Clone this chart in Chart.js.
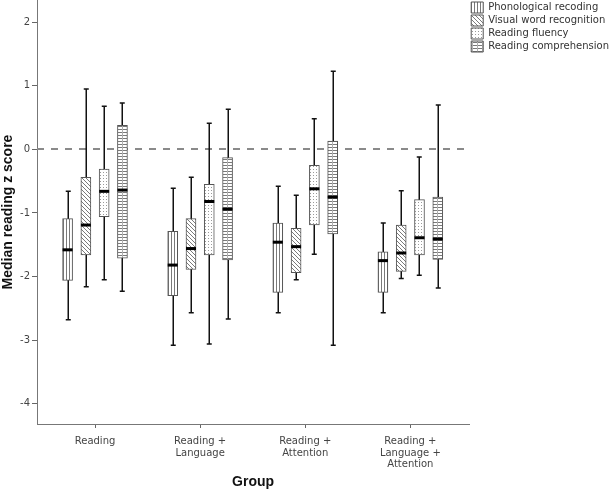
<!DOCTYPE html>
<html>
<head>
<meta charset="utf-8">
<script src="https://cdn.jsdelivr.net/npm/chart.js@4.4.1/dist/chart.umd.min.js"></script>
<style>
  html, body { margin: 0; padding: 0; background: #fff; }
  #wrap { width: 613px; height: 492px; }
</style>
</head>
<body>
<div id="wrap"><canvas id="myChart"></canvas></div>
<script>
// groups on the x axis (multi-line tick labels)
const group_labels = [
    ['Reading'],
    ['Reading +', 'Language'],
    ['Reading +', 'Attention'],
    ['Reading +', 'Language +', 'Attention']
];
const group_positions = [1, 2, 3, 4];

const measure_names = ['Phonological recoding', 'Visual word recognition', 'Reading fluency', 'Reading comprehension'];

// Phonological recoding
const phon_min = [-2.68, -3.08, -2.57, -2.57];
const phon_q1  = [-2.06, -2.30, -2.25, -2.25];
const phon_med = [-1.58, -1.82, -1.46, -1.75];
const phon_q3  = [-1.09, -1.29, -1.16, -1.61];
const phon_max = [-0.66, -0.61, -0.58, -1.16];

// Visual word recognition
const visual_min = [-2.16, -2.57, -2.05, -2.03];
const visual_q1  = [-1.66, -1.89, -1.94, -1.92];
const visual_med = [-1.19, -1.56, -1.53, -1.63];
const visual_q3  = [-0.44, -1.09, -1.24, -1.19];
const visual_max = [0.95, -0.44, -0.72, -0.65];

// Reading fluency
const fluency_min = [-2.05, -3.06, -1.65, -1.98];
const fluency_q1  = [-1.06, -1.66, -1.19, -1.66];
const fluency_med = [-0.66, -0.82, -0.62, -1.39];
const fluency_q3  = [-0.31, -0.55, -0.25, -0.79];
const fluency_max = [0.68, 0.41, 0.48, -0.12];

// Reading comprehension
const compr_min = [-2.23, -2.67, -3.08, -2.18];
const compr_q1  = [-1.71, -1.74, -1.33, -1.73];
const compr_med = [-0.64, -0.94, -0.75, -1.41];
const compr_q3  = [0.38, -0.13, 0.13, -0.75];
const compr_max = [0.73, 0.63, 1.23, 0.70];

const y_ticks = [-4, -3, -2, -1, 0, 1, 2];


// little hatch patterns for the boxes
function makePattern(w, h, draw) {
    const c = document.createElement('canvas');
    c.width = w;
    c.height = h;
    const g = c.getContext('2d');
    g.fillStyle = '#ffffff';
    g.fillRect(0, 0, w, h);
    g.fillStyle = '#7a7a7a';
    g.strokeStyle = '#7a7a7a';
    g.lineWidth = 1;
    draw(g);
    return g.createPattern(c, 'repeat');
}

const pat_vertical = makePattern(3, 3, function(g) {
    g.fillRect(0, 0, 1, 3);
});
const pat_diagonal = makePattern(4, 4, function(g) {
    g.fillRect(0, 0, 1, 1);
    g.fillRect(1, 1, 1, 1);
    g.fillRect(2, 2, 1, 1);
    g.fillRect(3, 3, 1, 1);
});
const pat_dots = makePattern(3, 3, function(g) {
    g.fillStyle = '#9a9a9a';
    g.fillRect(1, 1, 1, 1);
});
const pat_horizontal = makePattern(5, 3, function(g) {
    g.fillRect(0, 0, 5, 1);
    g.fillStyle = '#b0b0b0';
    g.fillRect(2, 0, 1, 3);
});

const box_offsets = [-0.261, -0.087, 0.087, 0.261];

function boxData(q1, q3, k) {
    return group_positions.map(function(g, i) {
        return { x: g + box_offsets[k], y: [q1[i], q3[i]] };
    });
}

const datasets = [
    { label: measure_names[0], data: boxData(phon_q1, phon_q3, 0), backgroundColor: pat_vertical,
      lo: phon_min, med: phon_med, hi: phon_max },
    { label: measure_names[1], data: boxData(visual_q1, visual_q3, 1), backgroundColor: pat_diagonal,
      lo: visual_min, med: visual_med, hi: visual_max },
    { label: measure_names[2], data: boxData(fluency_q1, fluency_q3, 2), backgroundColor: pat_dots,
      lo: fluency_min, med: fluency_med, hi: fluency_max },
    { label: measure_names[3], data: boxData(compr_q1, compr_q3, 3), backgroundColor: pat_horizontal,
      lo: compr_min, med: compr_med, hi: compr_max }
];
datasets.forEach(function(ds) {
    ds.borderColor = '#555555';
    ds.borderWidth = 1;
    ds.borderSkipped = false;
    ds.barThickness = 10;
    ds.grouped = false;
});

// whiskers, medians and the dashed reference line at 0
const whiskerPlugin = {
    id: 'whiskers',
    beforeDatasetsDraw(chart) {
        const ctx = chart.ctx;
        const area = chart.chartArea;
        const y = chart.scales.y;
        ctx.save();
        ctx.strokeStyle = '#8a8a8a';
        ctx.lineWidth = 2;
        ctx.setLineDash([7, 7]);
        const y0 = Math.round(y.getPixelForValue(0));
        ctx.beginPath();
        ctx.moveTo(area.left, y0);
        ctx.lineTo(area.right, y0);
        ctx.stroke();
        ctx.setLineDash([]);

        ctx.strokeStyle = '#111111';
        ctx.lineWidth = 1.5;
        chart.data.datasets.forEach(function(ds, d) {
            chart.getDatasetMeta(d).data.forEach(function(bar, i) {
                const x = Math.round(bar.x) + 0.25;
                const top = y.getPixelForValue(ds.hi[i]);
                const bot = y.getPixelForValue(ds.lo[i]);
                ctx.beginPath();
                ctx.moveTo(x, top);
                ctx.lineTo(x, bot);
                ctx.moveTo(x - 2.5, top);
                ctx.lineTo(x + 2.5, top);
                ctx.moveTo(x - 2.5, bot);
                ctx.lineTo(x + 2.5, bot);
                ctx.stroke();
            });
        });
        ctx.restore();
    },
    afterDatasetsDraw(chart) {
        const ctx = chart.ctx;
        const y = chart.scales.y;
        ctx.save();
        ctx.strokeStyle = '#000000';
        ctx.lineWidth = 3;
        chart.data.datasets.forEach(function(ds, d) {
            chart.getDatasetMeta(d).data.forEach(function(bar, i) {
                const m = y.getPixelForValue(ds.med[i]);
                ctx.beginPath();
                ctx.moveTo(bar.x - bar.width / 2, m);
                ctx.lineTo(bar.x + bar.width / 2, m);
                ctx.stroke();
            });
        });
        ctx.restore();
    }
};

const canvas = document.getElementById('myChart');
const ctx = canvas.getContext('2d');
const config = {
    type: 'bar',
    data: { datasets: datasets },
    options: {
        responsive: true,
        maintainAspectRatio: false,
        animation: false,
        layout: { padding: { left: 0, top: 0, bottom: 0, right: -6 } },
        plugins: {
            tooltip: { enabled: false },
            legend: {
                position: 'right',
                align: 'start',
                labels: {
                    boxWidth: 12,
                    boxHeight: 11,
                    padding: 2,
                    color: '#333333',
                    font: { family: 'DejaVu Sans', size: 10 }
                }
            }
        },
        scales: {
            x: {
                type: 'linear',
                offset: false,
                min: 0.448,
                max: 4.56,
                afterBuildTicks: function(scale) {
                    scale.ticks = group_positions.map(function(v) { return { value: v }; });
                },
                afterFit: function(scale) {
                    scale.height = 68;
                    scale.paddingLeft = 0;
                    scale.paddingRight = 0;
                },
                ticks: {
                    color: '#444444',
                    padding: 8,
                    maxRotation: 0,
                    autoSkip: false,
                    font: { family: 'DejaVu Sans', size: 10, lineHeight: 1.15 },
                    callback: function(value) { return group_labels[group_positions.indexOf(value)]; }
                },
                grid: { drawOnChartArea: false, offset: false, tickLength: 4, color: '#666666' },
                border: { color: '#777777' },
                title: {
                    display: true,
                    text: 'Group',
                    color: '#111111',
                    padding: { top: 0, bottom: 1 },
                    font: { family: 'Liberation Sans', size: 14, weight: 'bold' }
                }
            },
            y: {
                min: -4.32,
                max: 2.35,
                afterBuildTicks: function(scale) {
                    scale.ticks = y_ticks.map(function(v) { return { value: v }; });
                },
                afterFit: function(scale) {
                    scale.width = 37;
                    scale.paddingTop = 0;
                    scale.paddingBottom = 0;
                },
                ticks: {
                    color: '#444444',
                    padding: 2,
                    font: { family: 'DejaVu Sans', size: 10 }
                },
                grid: { drawOnChartArea: false, tickLength: 5, color: '#666666' },
                border: { color: '#777777' },
                title: {
                    display: true,
                    text: 'Median reading z score',
                    color: '#111111',
                    padding: 0,
                    font: { family: 'Liberation Sans', size: 14, weight: 'bold' }
                }
            }
        }
    },
    plugins: [whiskerPlugin]
};
const myChart = new Chart(ctx, config);
</script>
</body>
</html>
